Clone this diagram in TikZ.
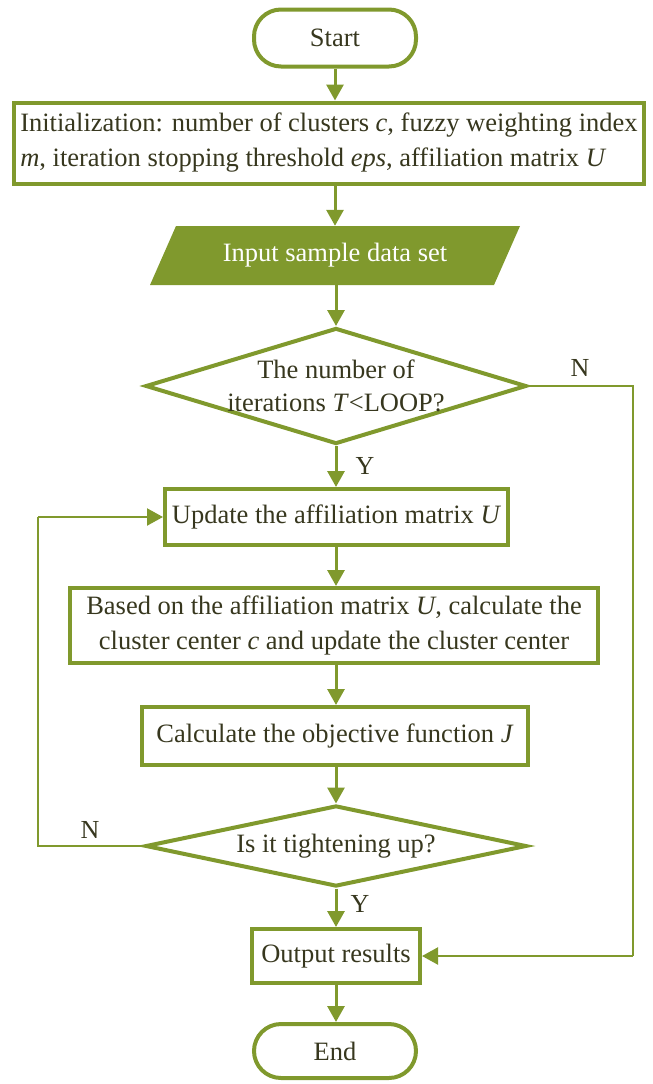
\documentclass[tikz,border=0pt]{standalone}
\usepackage{fontspec}
\setmainfont{Liberation Serif}
\usetikzlibrary{shapes.geometric,arrows.meta}
\definecolor{fcgreen}{RGB}{128,153,45}
\definecolor{txtc}{RGB}{55,55,30}
\begin{document}
\begin{tikzpicture}[x=1pt,y=-1pt,
  base/.style={draw=fcgreen, line width=4pt, fill=white, text=txtc, inner sep=0pt,
    font=\fontsize{26.5}{35}\selectfont},
  box/.style={base, align=center},
  term/.style={base, rounded corners=27pt},
  dia/.style={base, shape=diamond},
  txt/.style={text=txtc, align=center, inner sep=0pt, font=\fontsize{26.5}{33}\selectfont},
  lbl/.style={text=txtc, inner sep=0pt, font=\fontsize{26}{30}\selectfont},
  conn/.style={draw=fcgreen, line width=3pt, -{Triangle[length=16pt,width=17pt]}},
  thin/.style={draw=fcgreen, line width=2.2pt},
]
\useasboundingbox (0,0) rectangle (653,1084);

\node[term, minimum width=162pt, minimum height=57pt] (start) at (335,38) {Start};

\node[box, minimum width=630pt, minimum height=81pt, align=left] (init) at (329,143)
  {Initialization: number of clusters \textit{c}, fuzzy weighting index\\
   \textit{m}, iteration stopping threshold \textit{eps}, affiliation matrix \textit{U}};

\fill[fcgreen] (176,226) -- (520,226) -- (494,285) -- (150,285) -- cycle;
\node[txt, text=white, minimum height=59pt, minimum width=300pt] (input) at (335,255.5) {Input sample data set};

\node[dia, minimum width=381pt, minimum height=116pt] (d1) at (336,386) {};
\node[txt] (d1t) at (d1.center) {The number of\\iterations \textit{T}<LOOP?};

\node[box, minimum width=343pt, minimum height=56pt] (upd) at (336.5,517) {Update the affiliation matrix \textit{U}};

\node[box, minimum width=528pt, minimum height=75pt] (based) at (334,625.5)
  {Based on the affiliation matrix \textit{U}, calculate the\\
   cluster center \textit{c} and update the cluster center};

\node[box, minimum width=386pt, minimum height=58pt] (calc) at (335,736) {Calculate the objective function \textit{J}};

\node[dia, minimum width=381pt, minimum height=81pt] (d2) at (336,846) {};
\node[txt] (d2t) at (d2.center) {Is it tightening up?};

\node[box, minimum width=168pt, minimum height=54pt] (out) at (336,956) {Output results};

\node[term, minimum width=162pt, minimum height=54pt] (end) at (335,1051) {End};

\draw[conn] (start.south) -- (init.north -| start.south);
\draw[conn] (init.south -| input.north) -- (input.north);
\draw[conn] (input.south -| d1.north) -- (d1.north);
\draw[conn] (d1.south) -- (upd.north -| d1.south);
\draw[conn] (upd.south -| d1.south) -- (based.north -| d1.south);
\draw[conn] (based.south -| d1.south) -- (calc.north -| d1.south);
\draw[conn] (calc.south -| d2.north) -- (d2.north);
\draw[conn] (d2.south) -- (out.north);
\draw[conn] (out.south) -- (end.north -| out.south);

\coordinate (rtop) at (633,386);
\coordinate (rbot) at (633,956);
\draw[thin] (d1.east) -- (rtop) -- (rbot);
\draw[conn, line width=2.2pt] (rbot) -- (out.east);

\coordinate (lbot) at (38,846);
\coordinate (ltop) at (38,517);
\draw[thin] (d2.west) -- (lbot) -- (ltop);
\draw[conn, line width=2.2pt] (ltop) -- (upd.west);

\node[lbl] (n1) at (580,368) {N};
\node[lbl] (y1) at (365,466) {Y};
\node[lbl] (n2) at (90,830) {N};
\node[lbl] (y2) at (360,904) {Y};
\end{tikzpicture}
\end{document}
